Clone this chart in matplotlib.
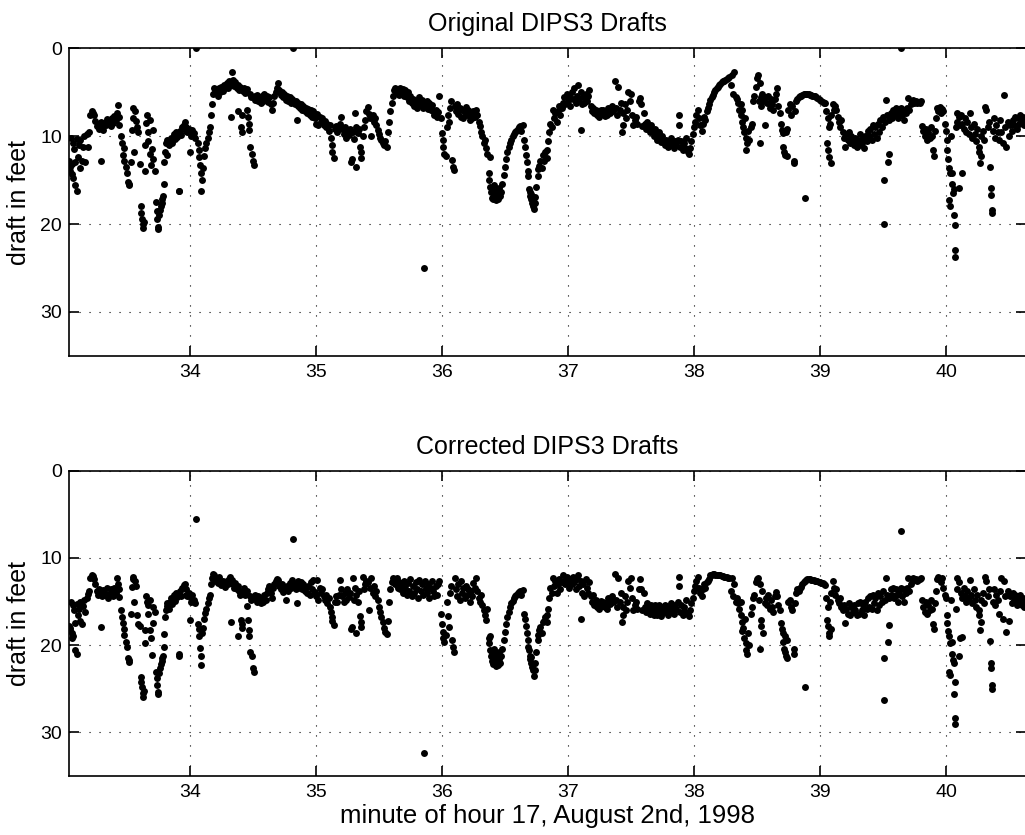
import matplotlib
matplotlib.use("Agg")
import matplotlib.pyplot as plt
import numpy as np

# time in minutes (hour 17), shared by both panels
minutes = [
    33.04, 33.045, 33.05, 33.055, 33.06, 33.065, 33.07, 33.075, 33.08, 33.085, 33.09, 33.10, 33.105, 33.11, 33.12, 33.125, 33.13, 33.14, 33.15, 33.16, 33.17, 33.18, 33.19, 33.20,
    33.21, 33.22, 33.23, 33.24, 33.25, 33.26, 33.27, 33.28, 33.29, 33.295, 33.30, 33.31, 33.32, 33.33, 33.34, 33.35, 33.36, 33.37, 33.38, 33.39, 33.40, 33.41, 33.42, 33.43, 33.435, 33.44,
    33.45, 33.46, 33.47, 33.475, 33.48, 33.49, 33.50, 33.51, 33.515, 33.52, 33.53, 33.54, 33.545, 33.55, 33.555, 33.56, 33.57, 33.58, 33.59, 33.60,
    33.61, 33.615, 33.62, 33.625, 33.63, 33.635, 33.64, 33.645, 33.65, 33.66, 33.665, 33.67, 33.68, 33.685, 33.69, 33.70, 33.705, 33.71, 33.72,
    33.73, 33.735, 33.74, 33.745, 33.75, 33.755, 33.76, 33.77, 33.775, 33.78, 33.785, 33.79, 33.795, 33.80, 33.81, 33.815, 33.82,
    33.83, 33.84, 33.85, 33.86, 33.87, 33.88, 33.89, 33.90, 33.91, 33.915, 33.92, 33.93, 33.94, 33.95, 33.96, 33.965, 33.97, 33.98, 33.99, 34.00, 34.005, 34.01, 34.02, 34.03, 34.04, 34.05,
    34.06, 34.07, 34.075, 34.08, 34.085, 34.09, 34.095, 34.10, 34.11, 34.12, 34.13, 34.14, 34.15, 34.16, 34.17, 34.175, 34.18, 34.19, 34.20,
    34.21, 34.22, 34.23, 34.24, 34.25, 34.26, 34.27, 34.28, 34.29, 34.30, 34.31, 34.32, 34.325, 34.33, 34.34, 34.35, 34.36, 34.37, 34.38, 34.385, 34.39, 34.40, 34.405, 34.41, 34.415, 34.42, 34.43, 34.44, 34.45,
    34.455, 34.46, 34.465, 34.47, 34.475, 34.48, 34.485, 34.49, 34.50, 34.51, 34.515, 34.52, 34.53, 34.54, 34.55,
    34.56, 34.57, 34.58, 34.59, 34.60, 34.61, 34.62, 34.63, 34.64, 34.65, 34.66, 34.67, 34.68, 34.69, 34.70, 34.71, 34.72, 34.73, 34.74, 34.75, 34.76, 34.77, 34.78, 34.79, 34.80,
    34.82, 34.81, 34.83, 34.84, 34.85, 34.855, 34.86, 34.87, 34.88, 34.89, 34.90, 34.91, 34.92, 34.93, 34.94, 34.95, 34.96, 34.97, 34.98, 34.99, 35.00, 35.01, 35.02, 35.03,
    35.04, 35.05, 35.06, 35.07, 35.08, 35.09, 35.10, 35.11, 35.12, 35.125, 35.13, 35.14, 35.15, 35.16, 35.17, 35.18, 35.19, 35.20,
    35.21, 35.22, 35.23, 35.24, 35.25, 35.26, 35.27, 35.28, 35.285, 35.29, 35.30, 35.31, 35.315, 35.32, 35.33, 35.34, 35.35, 35.355, 35.36, 35.37, 35.38,
    35.39, 35.40, 35.41, 35.42, 35.43, 35.44, 35.45, 35.46, 35.47, 35.48, 35.49, 35.50, 35.51, 35.52, 35.53, 35.54, 35.55, 35.56, 35.57, 35.58, 35.59, 35.60, 35.61, 35.62, 35.63, 35.64, 35.65, 35.66,
    35.67, 35.68, 35.69, 35.70, 35.71, 35.72, 35.73, 35.74, 35.75, 35.76, 35.77, 35.78, 35.79, 35.80, 35.81, 35.82, 35.83, 35.84, 35.85, 35.86, 35.865,
    35.87, 35.88, 35.89, 35.90, 35.91, 35.92, 35.93, 35.94, 35.95, 35.96, 35.97, 35.98,
    35.99, 36.00, 36.005, 36.01, 36.02, 36.03, 36.04, 36.05, 36.055, 36.06, 36.07, 36.08, 36.09, 36.095, 36.10,
    36.11, 36.12, 36.13, 36.14, 36.15, 36.16, 36.17, 36.18, 36.19, 36.20, 36.21, 36.22, 36.23, 36.24, 36.25, 36.26, 36.27, 36.28, 36.29, 36.30, 36.31, 36.32, 36.33, 36.34, 36.35, 36.36,
    36.37, 36.375, 36.38, 36.385, 36.39, 36.395, 36.40, 36.405, 36.41, 36.415, 36.42, 36.425, 36.43, 36.435, 36.44, 36.445, 36.45, 36.455, 36.46,
    36.47, 36.48, 36.49, 36.50, 36.51, 36.52, 36.53, 36.54, 36.55, 36.56, 36.57, 36.58, 36.59, 36.60, 36.61, 36.62, 36.63, 36.64, 36.65,
    36.66, 36.67, 36.675, 36.68, 36.685, 36.69, 36.695, 36.70, 36.705, 36.71, 36.715, 36.72, 36.725, 36.73, 36.735, 36.74, 36.75,
    36.76, 36.765, 36.77, 36.78, 36.79, 36.80, 36.81, 36.82, 36.83, 36.835, 36.84, 36.85, 36.86, 36.87, 36.88, 36.89, 36.90, 36.91, 36.92, 36.93, 36.94, 36.95,
    36.96, 36.97, 36.98, 36.99, 37.00, 37.01, 37.02, 37.03, 37.04, 37.05, 37.06, 37.07, 37.08, 37.09, 37.10, 37.105,
    37.11, 37.12, 37.13, 37.14, 37.15, 37.16, 37.17, 37.18, 37.19, 37.20,
    37.21, 37.22, 37.23, 37.24, 37.25, 37.26, 37.27, 37.28, 37.29, 37.30, 37.31, 37.32, 37.33, 37.34, 37.35, 37.36, 37.37, 37.38, 37.39, 37.40, 37.41,
    37.42, 37.43, 37.435, 37.44, 37.45, 37.46, 37.47, 37.48, 37.49, 37.50, 37.51, 37.52, 37.53, 37.54, 37.55, 37.56,
    37.57, 37.58, 37.59, 37.60, 37.61, 37.62, 37.63, 37.64, 37.65, 37.66, 37.67, 37.68, 37.69, 37.70, 37.71, 37.72, 37.73, 37.74, 37.75, 37.76,
    37.77, 37.78, 37.79, 37.80, 37.81, 37.82, 37.83, 37.84, 37.85, 37.86, 37.87, 37.88, 37.885,
    37.89, 37.90, 37.91, 37.92, 37.93, 37.94, 37.95, 37.96, 37.97, 37.98, 37.99, 38.00, 38.01, 38.02, 38.03,
    38.04, 38.05, 38.06, 38.07, 38.08, 38.09, 38.10, 38.11, 38.12, 38.13, 38.14, 38.15, 38.16, 38.17, 38.18, 38.19, 38.20, 38.21, 38.22, 38.23, 38.24, 38.25, 38.26, 38.27, 38.28, 38.29, 38.30, 38.31, 38.32, 38.33,
    38.34, 38.35, 38.36, 38.37, 38.375, 38.38, 38.385, 38.39, 38.40, 38.405, 38.41, 38.415, 38.42, 38.43, 38.44, 38.45, 38.46, 38.47, 38.48, 38.49, 38.50, 38.51, 38.515, 38.52, 38.525, 38.53, 38.535, 38.54, 38.55, 38.56, 38.57,
    38.58, 38.59, 38.60, 38.61, 38.62, 38.63, 38.64, 38.65, 38.66, 38.67, 38.68, 38.69,
    38.70, 38.705, 38.71, 38.715, 38.72, 38.725, 38.73, 38.735, 38.74, 38.75, 38.76, 38.77, 38.78, 38.79, 38.795, 38.80,
    38.81, 38.82, 38.83, 38.84, 38.85, 38.86, 38.87, 38.88, 38.885,
    38.89, 38.90, 38.91, 38.92, 38.93, 38.94, 38.95, 38.96, 38.97, 38.98, 38.99, 39.00, 39.01, 39.02, 39.03, 39.04,
    39.05, 39.055, 39.06, 39.065, 39.07, 39.075, 39.08, 39.085,
    39.09, 39.10, 39.11, 39.12, 39.13, 39.14, 39.15, 39.16, 39.17, 39.18, 39.19, 39.20, 39.21, 39.22, 39.23, 39.24, 39.25,
    39.26, 39.27, 39.28, 39.29, 39.30, 39.31, 39.32, 39.33, 39.34, 39.35, 39.36, 39.37, 39.38, 39.39, 39.40, 39.41, 39.42, 39.43, 39.44, 39.45, 39.46, 39.47, 39.48, 39.49, 39.50, 39.505,
    39.51, 39.515, 39.52, 39.53, 39.54, 39.545, 39.55, 39.56, 39.57, 39.58, 39.59, 39.60, 39.61, 39.62, 39.63, 39.64, 39.646,
    39.65, 39.66, 39.67, 39.68, 39.69, 39.70, 39.71, 39.72, 39.73, 39.74, 39.75, 39.76, 39.77, 39.78, 39.79, 39.80, 39.81,
    39.82, 39.83, 39.84, 39.85, 39.86, 39.87, 39.88, 39.89, 39.90, 39.905, 39.91, 39.92, 39.93, 39.94, 39.95, 39.96, 39.97, 39.98, 39.99,
    40.00, 40.005, 40.01, 40.015, 40.02, 40.025, 40.03, 40.035, 40.04, 40.045, 40.05, 40.055, 40.06, 40.065, 40.07, 40.072, 40.075,
    40.08, 40.085, 40.09, 40.10, 40.105, 40.11, 40.12, 40.125, 40.13, 40.14, 40.15,
    40.16, 40.17, 40.18, 40.19, 40.20, 40.21, 40.22, 40.23, 40.24, 40.25, 40.26, 40.265, 40.27, 40.275,
    40.28, 40.29, 40.30, 40.31, 40.32, 40.33, 40.34, 40.35, 40.355, 40.36, 40.362, 40.365,
    40.37, 40.38, 40.39, 40.40, 40.41, 40.42, 40.43, 40.44, 40.45, 40.46, 40.47, 40.48, 40.49, 40.50, 40.51,
    40.52, 40.53, 40.54, 40.55, 40.56, 40.57, 40.58, 40.59, 40.60, 40.61, 40.62, 40.63, 40.64, 40.65,
]

orig_ft = [
    12.8, 13.5, 14.0, 10.2, 13.2, 14.3, 10.8, 14.8, 11.5, 13.0, 15.6, 16.3, 10.3, 12.4, 11.0, 13.6, 10.5, 12.8, 11.3, 10.0, 13.0, 9.8, 11.2, 9.5,
    7.6, 7.2, 7.4, 7.6, 8.3, 8.9, 8.6, 9.2, 12.8, 8.4, 8.9, 9.3, 8.5, 8.8, 8.1, 8.6, 8.3, 8.9, 8.0, 8.5, 7.7, 8.2, 7.4, 6.5, 7.8, 8.8,
    10.0, 10.8, 12.2, 11.4, 12.8, 13.5, 14.2, 15.2, 15.6, 15.4, 13.0, 9.3, 8.0, 6.8, 11.8, 7.2, 8.3, 9.0, 9.6, 13.2,
    18.0, 18.8, 19.4, 20.0, 20.5, 19.8, 14.0, 11.0, 8.5, 7.6, 9.5, 10.6, 12.0, 8.2, 13.3, 11.5, 9.3, 12.6, 14.0,
    17.5, 18.5, 19.4, 20.3, 20.6, 19.0, 18.4, 18.0, 17.6, 17.2, 16.8, 15.4, 13.0, 11.8, 10.8, 12.2, 10.5,
    11.0, 10.6, 10.2, 10.8, 9.8, 10.3, 9.6, 10.1, 16.3, 16.2, 9.4, 9.9, 9.0, 8.8, 8.4, 9.4, 9.0, 9.6, 9.2, 11.8, 9.5, 10.0, 9.3, 9.7, 10.2, 0.0,
    10.8, 11.6, 12.4, 13.3, 14.2, 16.3, 15.0, 13.6, 12.3, 11.4, 10.8, 10.2, 9.6, 9.0, 7.6, 6.4, 5.2, 4.6, 5.0,
    4.8, 5.4, 4.6, 5.0, 4.4, 4.9, 4.2, 4.6, 4.0, 4.5, 3.8, 4.2, 7.8, 2.7, 3.6, 4.3, 3.9, 4.6, 4.2, 7.2, 4.8, 4.4, 9.0, 7.6, 9.6, 4.9, 4.5, 5.1, 4.7,
    7.0, 7.8, 8.6, 9.3, 5.2, 11.2, 5.6, 12.0, 12.8, 13.3, 5.4, 5.9, 5.3, 6.0, 5.6,
    6.2, 5.5, 6.0, 5.2, 5.8, 5.4, 6.1, 5.6, 6.4, 7.0, 6.2, 5.5, 5.0, 4.6, 4.0, 4.8, 5.3, 5.0, 5.6, 5.2, 5.9, 5.4, 6.0, 5.6, 6.2,
    0.0, 5.8, 6.4, 6.0, 8.2, 6.6, 6.2, 6.8, 6.4, 7.0, 6.6, 7.2, 6.8, 7.4, 6.9, 7.6, 7.0, 7.8, 7.2, 8.0, 8.6, 7.5, 8.8, 7.8,
    8.4, 8.0, 8.8, 8.3, 9.0, 8.6, 9.4, 8.8, 10.2, 11.0, 11.8, 12.5, 9.2, 8.9, 9.5, 9.0, 8.6, 7.8,
    9.2, 9.8, 9.0, 10.2, 9.4, 9.9, 9.2, 13.0, 12.6, 9.6, 10.3, 7.4, 13.5, 9.0, 9.7, 9.2, 11.2, 11.8, 12.5, 10.0, 9.0,
    8.2, 7.2, 6.7, 7.5, 8.0, 10.0, 7.6, 8.4, 7.9, 8.8, 9.3, 9.8, 10.2, 10.5, 10.8, 11.0, 10.6, 11.2, 9.6, 8.4, 7.2, 6.2, 5.5, 4.8, 4.6, 5.0, 4.7, 5.3,
    4.6, 5.0, 4.7, 5.4, 4.8, 5.6, 5.0, 6.0, 5.5, 6.3, 5.8, 6.6, 6.0, 6.8, 6.2, 5.6, 6.5, 5.9, 6.8, 25.0, 6.1,
    6.6, 6.0, 6.9, 6.3, 7.0, 6.5, 7.2, 7.6, 7.0, 7.8, 7.3, 5.5,
    8.0, 9.7, 10.4, 11.2, 12.0, 12.3, 9.0, 7.6, 8.4, 6.8, 6.0, 12.7, 13.5, 13.9, 6.6,
    7.2, 6.4, 7.5, 6.8, 7.8, 7.0, 8.0, 7.3, 6.7, 7.6, 7.0, 8.2, 7.4, 8.0, 7.2, 7.8, 7.0, 7.6, 8.4, 8.9, 9.6, 10.0, 10.8, 10.4, 11.4, 12.0,
    14.2, 15.0, 15.8, 12.4, 16.4, 17.0, 16.0, 17.2, 16.6, 15.6, 16.8, 17.3, 16.2, 17.0, 16.4, 17.2, 16.6, 15.9, 16.8,
    16.4, 15.4, 14.4, 13.5, 12.6, 11.8, 11.3, 10.8, 10.4, 10.0, 9.8, 9.6, 9.4, 9.2, 9.0, 8.9, 9.4, 8.8, 10.4,
    11.2, 12.2, 13.0, 14.0, 14.6, 16.0, 16.4, 16.8, 17.2, 16.6, 17.6, 17.9, 17.2, 18.3, 17.6, 16.9, 15.8,
    14.6, 13.8, 13.4, 12.8, 13.6, 12.2, 12.8, 11.8, 11.6, 12.5, 10.6, 9.6, 8.6, 9.0, 7.0, 8.0, 7.4, 8.4, 7.2, 6.6, 7.6, 6.8,
    6.2, 5.6, 6.4, 5.2, 6.0, 5.4, 6.6, 5.0, 5.8, 4.6, 6.2, 5.4, 4.2, 5.8, 9.3, 5.0,
    6.4, 5.6, 6.2, 5.2, 6.0, 5.4, 4.8, 6.6, 7.2, 6.8,
    7.4, 7.0, 7.6, 7.2, 7.8, 7.1, 7.5, 7.0, 7.7, 7.2, 7.6, 6.8, 7.4, 7.0, 6.6, 7.2, 3.8, 6.8, 7.6, 4.4, 7.0,
    6.2, 9.5, 8.8, 7.4, 6.4, 8.0, 7.0, 5.0, 6.0, 5.2, 7.6, 8.8, 8.2, 7.8, 8.6, 6.0,
    5.7, 6.4, 8.9, 7.4, 8.6, 9.2, 8.4, 9.0, 9.6, 8.8, 9.4, 10.0, 9.2, 9.8, 10.4, 9.6, 10.2, 10.7, 10.0, 10.6,
    11.0, 10.4, 11.2, 10.6, 11.0, 10.2, 10.8, 11.4, 10.6, 11.0, 10.4, 7.6, 8.8,
    11.2, 10.6, 11.6, 10.8, 11.4, 10.2, 11.8, 12.0, 11.4, 10.6, 9.8, 9.0, 8.4, 7.6, 7.0,
    8.0, 8.8, 9.4, 8.6, 7.8, 8.2, 7.2, 6.8, 6.4, 5.9, 5.6, 5.3, 5.0, 4.8, 4.6, 4.4, 4.2, 4.1, 3.9, 3.8, 3.7, 3.6, 3.5, 3.4, 3.3, 4.2, 3.1, 5.2, 2.7, 5.6,
    5.8, 6.2, 7.0, 7.6, 6.4, 8.4, 7.0, 9.0, 9.6, 8.0, 11.6, 10.2, 10.8, 9.4, 10.4, 9.0, 8.6, 6.0, 5.4, 4.4, 3.4, 3.1, 6.0, 10.8, 4.0, 5.6, 6.6, 5.2, 6.0, 8.7, 5.6,
    6.2, 5.4, 6.8, 5.8, 6.4, 7.0, 5.8, 5.2, 4.6, 6.6, 7.4, 8.6,
    9.3, 11.2, 9.7, 11.8, 9.4, 12.2, 9.6, 12.3, 9.2, 7.0, 6.4, 7.6, 6.6, 12.8, 13.1, 7.2,
    6.0, 5.8, 5.6, 5.5, 5.4, 5.3, 5.2, 5.2, 17.1,
    5.2, 5.2, 5.2, 5.3, 5.3, 5.4, 5.4, 5.5, 5.6, 5.7, 5.8, 5.9, 6.0, 6.1, 6.2, 6.3,
    7.2, 10.8, 8.0, 11.6, 9.0, 12.4, 8.6, 13.1,
    7.6, 6.4, 7.0, 6.6, 7.0, 7.8, 8.4, 9.0, 8.2, 9.6, 10.2, 11.2, 9.8, 10.4, 9.6, 10.8, 10.0,
    10.6, 11.0, 10.2, 11.2, 10.4, 11.0, 9.8, 10.8, 10.2, 11.4, 10.0, 10.6, 9.4, 10.0, 9.2, 10.4, 8.8, 9.8, 9.0, 10.2, 8.6, 9.6, 8.2, 9.0, 7.8, 15.0,
    20.0, 8.4, 5.9, 7.6, 13.0, 12.0, 8.2, 7.4, 8.0, 7.0, 7.6, 6.8, 7.4, 8.0, 7.2, 6.8, 0.0,
    7.6, 7.0, 8.2, 7.4, 6.8, 5.7, 7.0, 6.4, 6.0, 5.9, 6.2, 6.0, 6.3, 6.1, 6.2, 6.0, 8.9,
    9.4, 10.0, 9.2, 10.4, 9.6, 10.2, 9.0, 10.0, 11.6, 12.3, 9.4, 8.0, 6.8, 7.2, 6.7, 7.4, 6.9, 7.2, 8.6,
    9.4, 10.4, 11.6, 12.6, 13.6, 17.3, 14.2, 18.0, 10.0, 15.4, 14.2, 16.5, 16.0, 19.0, 20.1, 22.9, 23.8,
    9.0, 7.4, 8.4, 7.8, 15.9, 8.8, 7.6, 14.2, 8.6, 9.2, 8.0,
    9.6, 8.4, 9.8, 7.4, 9.0, 10.2, 8.6, 9.8, 10.6, 9.2, 11.2, 11.8, 13.1, 12.3,
    10.0, 9.4, 10.4, 6.7, 7.0, 9.0, 8.4, 13.5, 15.9, 16.7, 18.4, 18.8,
    9.4, 8.0, 10.2, 8.8, 9.6, 10.4, 8.2, 9.6, 10.8, 5.3, 9.0, 11.2, 8.4, 10.0, 8.8,
    9.4, 8.2, 8.8, 7.8, 9.2, 8.0, 8.6, 7.6, 8.4, 7.8, 8.8, 8.0, 8.4, 7.8,
]

corr_ft = [
    17.8, 18.3, 18.0, 15.0, 18.6, 19.2, 15.4, 19.0, 16.0, 17.5, 20.5, 21.0, 15.3, 16.6, 15.8, 17.2, 15.0, 17.6, 15.5, 14.8, 16.2, 14.6, 14.1, 13.8,
    12.3, 12.0, 12.1, 12.4, 13.0, 13.8, 14.2, 13.6, 17.9, 14.0, 14.4, 13.7, 14.0, 14.3, 13.5, 14.6, 14.1, 13.6, 14.0, 14.4, 13.4, 14.0, 12.3, 13.0, 13.6, 14.5,
    16.0, 16.8, 17.5, 18.2, 18.8, 19.6, 20.2, 21.5, 21.9, 21.7, 16.4, 13.3, 12.4, 12.2, 15.0, 12.6, 13.2, 16.5, 17.6, 17.8,
    23.6, 24.2, 24.8, 25.5, 26.0, 25.2, 19.8, 18.3, 14.4, 15.0, 16.4, 15.4, 18.3, 14.8, 19.2, 21.1, 15.6, 17.5, 16.2,
    23.1, 23.8, 24.6, 25.4, 25.6, 23.2, 22.6, 22.2, 21.8, 21.5, 21.2, 20.2, 18.7, 16.8, 16.0, 15.5, 15.2,
    15.8, 15.0, 14.6, 15.3, 14.3, 14.9, 14.0, 14.5, 21.0, 21.3, 13.8, 14.4, 13.4, 13.1, 13.0, 14.2, 13.6, 14.4, 14.0, 17.1, 14.6, 15.0, 14.2, 14.8, 15.2, 5.5,
    17.6, 18.2, 19.0, 20.3, 21.3, 22.3, 18.6, 18.0, 17.0, 16.3, 15.9, 15.2, 14.6, 14.2, 13.0, 12.3, 11.8, 12.0, 12.4,
    12.6, 12.9, 12.2, 12.8, 13.1, 12.6, 12.9, 13.3, 12.7, 13.0, 12.4, 12.2, 17.3, 12.5, 13.0, 13.4, 12.9, 13.6, 13.2, 19.0, 13.8, 14.2, 17.1, 18.0, 17.6, 14.0, 13.5, 14.3, 13.8,
    15.5, 17.1, 18.3, 19.0, 14.4, 20.8, 14.8, 21.3, 22.6, 23.1, 14.2, 14.6, 15.0, 14.4, 14.9,
    15.2, 14.6, 15.0, 14.2, 14.8, 14.0, 13.6, 13.2, 14.0, 14.6, 13.5, 13.0, 12.6, 12.4, 12.5, 13.2, 13.6, 13.0, 13.9, 13.4, 14.8, 13.2, 13.8, 12.9, 13.5,
    7.8, 12.5, 13.0, 13.6, 15.2, 13.1, 12.6, 13.4, 12.8, 13.6, 13.0, 13.8, 13.3, 14.0, 13.2, 14.2, 12.8, 13.6, 12.5, 13.9, 14.4, 12.5, 14.8, 13.4,
    14.0, 13.6, 14.4, 14.8, 14.2, 15.2, 14.6, 15.6, 16.2, 16.8, 17.2, 17.7, 15.0, 14.4, 15.0, 14.2, 12.5, 13.6,
    14.4, 15.0, 14.0, 14.8, 13.6, 14.5, 14.0, 18.2, 17.9, 12.3, 14.8, 13.4, 18.6, 14.2, 15.0, 13.8, 16.7, 17.3, 17.9, 12.2, 13.6,
    13.0, 12.6, 12.8, 16.0, 13.4, 12.3, 14.0, 13.2, 14.4, 13.8, 14.8, 15.6, 16.2, 16.8, 17.4, 18.0, 18.5, 18.7, 17.2, 15.0, 13.6, 12.8, 12.3, 12.6, 13.0, 12.3, 13.4, 12.8,
    13.6, 13.0, 14.0, 12.6, 13.4, 14.2, 12.9, 13.8, 12.4, 14.4, 13.2, 14.0, 12.8, 13.6, 14.6, 12.5, 13.8, 13.0, 14.2, 32.4, 12.6,
    13.4, 14.0, 13.0, 14.6, 13.4, 12.7, 13.8, 14.4, 13.2, 14.2, 13.0, 12.7,
    16.4, 17.6, 18.5, 19.2, 19.6, 18.8, 15.0, 16.7, 17.9, 14.0, 13.2, 19.4, 20.2, 20.8, 12.3,
    13.6, 14.4, 13.0, 14.8, 12.7, 14.0, 13.4, 14.6, 13.2, 14.2, 13.6, 15.0, 13.8, 14.4, 12.9, 13.5, 12.3, 13.8, 14.6, 15.0, 14.2, 15.4, 16.0, 16.6, 17.1, 15.8,
    19.2, 19.8, 20.6, 19.0, 21.2, 21.8, 20.8, 22.2, 21.5, 20.4, 21.9, 22.4, 21.0, 22.0, 21.4, 22.3, 21.6, 20.8, 22.0,
    21.2, 20.4, 19.4, 18.5, 17.6, 16.8, 16.2, 15.6, 15.2, 14.9, 14.6, 14.4, 14.2, 14.0, 13.9, 13.8, 14.2, 13.7, 16.4,
    17.0, 17.8, 18.6, 19.4, 20.2, 20.6, 21.2, 21.6, 22.0, 21.4, 22.5, 22.9, 22.2, 23.5, 22.8, 22.0, 20.8,
    19.4, 18.8, 18.3, 17.9, 18.6, 17.4, 17.2, 16.8, 16.5, 17.3, 15.8, 14.6, 13.4, 14.0, 12.3, 13.2, 12.6, 14.0, 13.0, 12.4, 13.6, 12.8,
    12.0, 12.6, 13.0, 12.2, 12.8, 13.4, 12.4, 13.0, 12.2, 12.8, 13.6, 12.4, 12.0, 13.2, 17.0, 12.6,
    14.0, 13.0, 14.4, 12.4, 13.4, 14.0, 12.8, 14.4, 15.0, 14.2,
    15.4, 14.8, 15.6, 15.0, 15.8, 14.9, 15.5, 15.0, 15.6, 15.2, 15.8, 14.6, 15.3, 14.8, 14.4, 15.0, 11.8, 14.8, 15.6, 12.3, 15.0,
    14.0, 17.3, 16.6, 15.6, 14.4, 16.0, 15.0, 12.6, 13.4, 12.3, 14.6, 16.0, 15.4, 15.0, 15.8, 13.6,
    12.4, 13.6, 16.0, 14.0, 15.6, 16.2, 15.2, 15.8, 16.4, 15.4, 16.0, 16.6, 15.4, 16.0, 16.5, 15.4, 16.0, 16.7, 15.6, 16.2,
    15.4, 16.0, 16.6, 15.6, 16.2, 15.2, 15.8, 16.4, 15.4, 15.9, 15.0, 12.2, 13.2,
    16.2, 15.4, 16.6, 15.6, 16.2, 14.8, 16.4, 16.7, 16.0, 15.2, 14.6, 13.8, 13.2, 12.6, 12.2,
    13.4, 14.0, 14.4, 13.6, 13.0, 13.4, 12.8, 12.6, 12.4, 12.0, 11.9, 11.8, 11.8, 11.9, 11.9, 12.0, 12.0, 12.0, 12.1, 12.1, 12.2, 12.2, 12.2, 12.3, 12.3, 13.8, 12.3, 14.4, 13.0, 15.0,
    14.6, 15.2, 15.8, 16.6, 15.0, 17.4, 18.4, 18.0, 19.2, 17.0, 20.6, 19.8, 21.0, 18.6, 20.0, 16.4, 15.6, 14.6, 14.2, 12.8, 12.4, 12.3, 14.8, 20.4, 13.0, 17.1, 17.8, 13.8, 18.6, 15.2, 14.6,
    15.4, 14.2, 15.8, 14.8, 15.6, 16.2, 14.4, 13.9, 14.4, 15.4, 16.0, 17.5,
    18.2, 19.6, 18.6, 20.4, 19.0, 20.8, 21.2, 21.5, 19.4, 15.0, 14.8, 15.6, 16.0, 21.0, 20.4, 15.2,
    14.0, 13.6, 13.8, 13.5, 13.3, 13.0, 12.8, 12.6, 24.8,
    12.5, 12.4, 12.4, 12.4, 12.5, 12.5, 12.5, 12.6, 12.6, 12.7, 12.8, 12.8, 12.9, 12.9, 13.0, 13.1,
    14.6, 17.1, 15.6, 17.8, 18.6, 19.0, 15.0, 18.2,
    14.0, 12.6, 13.4, 14.2, 13.6, 14.8, 15.2, 14.6, 15.6, 16.0, 15.4, 17.5, 15.8, 16.4, 15.2, 16.6, 15.6,
    16.2, 15.4, 16.0, 16.6, 15.2, 16.4, 15.0, 16.0, 15.4, 16.6, 15.0, 15.8, 14.6, 15.6, 14.4, 15.8, 14.2, 15.2, 14.6, 16.0, 14.0, 15.4, 14.4, 15.0, 13.8, 21.5,
    26.3, 14.8, 12.3, 14.2, 19.6, 17.7, 14.6, 13.6, 14.2, 13.4, 14.6, 13.6, 14.2, 15.0, 13.8, 13.4, 6.9,
    14.4, 13.6, 15.0, 14.0, 13.4, 12.3, 13.8, 13.0, 12.4, 12.3, 12.5, 12.4, 12.6, 12.5, 12.4, 12.3, 14.8,
    15.6, 16.2, 15.0, 16.4, 15.4, 16.0, 14.8, 15.8, 17.6, 18.2, 15.2, 13.8, 12.4, 12.2, 12.5, 12.8, 12.3, 13.4, 14.2,
    14.6, 16.6, 17.5, 18.4, 19.0, 23.1, 19.8, 23.4, 14.8, 21.0, 19.6, 21.7, 22.0, 25.6, 24.2, 28.3, 29.0,
    15.8, 12.3, 13.6, 12.8, 21.2, 19.2, 14.0, 19.1, 14.6, 13.4, 14.4,
    15.0, 13.8, 14.6, 12.5, 14.2, 15.2, 13.6, 14.8, 15.6, 14.2, 16.0, 16.6, 18.3, 17.4,
    14.8, 14.0, 15.2, 12.2, 12.6, 14.4, 13.6, 19.5, 22.0, 22.6, 24.6, 25.0,
    15.0, 13.6, 15.4, 14.2, 14.8, 16.4, 13.8, 12.3, 17.0, 12.6, 14.4, 18.5, 13.8, 17.2, 14.4,
    15.2, 14.0, 14.8, 14.2, 15.4, 14.6, 15.0, 14.2, 15.4, 14.6, 15.6, 14.8, 15.2, 14.6,
]

titles = ["Original DIPS3 Drafts", "Corrected DIPS3 Drafts"]
x_ticks = [34, 35, 36, 37, 38, 39, 40]
y_ticks = [0, 10, 20, 30]

plt.rcParams['font.family'] = ['Liberation Sans', 'DejaVu Sans']

fig = plt.figure(figsize=(10.25, 8.35), dpi=100)
ax_top = fig.add_axes([69 / 1025, 479 / 835, 957 / 1025, 308 / 835])
ax_bot = fig.add_axes([69 / 1025, 59 / 835, 957 / 1025, 305.3 / 835])

for ax, drafts, title in zip([ax_top, ax_bot], [orig_ft, corr_ft], titles):
    ax.plot(minutes, drafts, 'o', ms=5.0, mfc='black', mec='none', zorder=3)
    ax.set_xlim(33.04, 40.635)
    ax.set_ylim(35, 0)
    ax.set_xticks(x_ticks)
    ax.set_yticks(y_ticks)
    ax.grid(True, color='black', linestyle=(0, (1, 8)), linewidth=0.8)
    ax.tick_params(direction='in', length=7, width=1.2, top=True, right=True, labelsize=14)
    ax.tick_params(axis='x', pad=6)
    ax.tick_params(axis='y', pad=5)
    for s in ax.spines.values():
        s.set_linewidth(1.2)
    ax.set_title(title, fontsize=18, pad=12)
    ax.set_ylabel('draft in feet', fontsize=18, labelpad=7)

ax_bot.set_xlabel('minute of hour 17, August 2nd, 1998', fontsize=18.5, labelpad=2)

fig.savefig('out.png', dpi=100)
